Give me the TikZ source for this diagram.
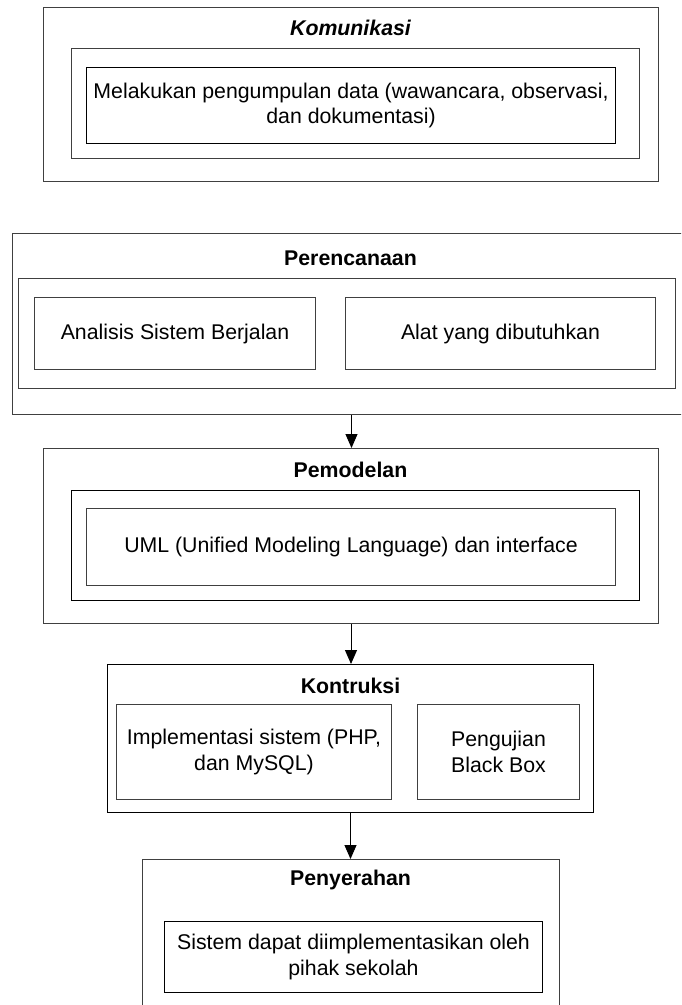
\documentclass[tikz,border=0pt]{standalone}
\usepackage{fontspec}
\setmainfont{Liberation Sans}
\usetikzlibrary{arrows.meta}
\tikzset{
  kotak/.style 2 args={draw=black!75, line width=1pt, anchor=north west, inner sep=0pt,
    align=center, minimum width=#1pt, minimum height=#2pt},
  judul/.style={font=\fontsize{21.3}{25.5}\selectfont\bfseries},
  panah/.style={-{Triangle[length=14pt,width=12pt]}, line width=1pt},
}
\begin{document}
\begin{tikzpicture}[x=1pt, y=-1pt, font=\fontsize{21.3}{25.5}\selectfont]
  \clip (0,0) rectangle (681,1005);
  \node[kotak={615}{174}] (komunikasi) at (43,7) {};
  \node[judul] (kom-judul) at (350.5,28) {\itshape Komunikasi};
  \node[kotak={568}{110}] (kom-dalam) at (71,48) {};
  \node[kotak={529}{76}, draw=black] (kom-isi) at (86,67)
    {Melakukan pengumpulan data (wawancara, observasi,\\dan dokumentasi)};

  \node[kotak={678}{181}] (perencanaan) at (12,233) {};
  \node[judul] (ren-judul) at (350.5,258) {Perencanaan};
  \node[kotak={657}{110}] (ren-dalam) at (18,278) {};
  \node[kotak={281}{72}] (ren-analisis) at (34,297) {Analisis Sistem Berjalan};
  \node[kotak={310}{72}] (ren-alat) at (345,297) {Alat yang dibutuhkan};

  \node[kotak={615}{175}] (pemodelan) at (43,448) {};
  \node[judul] (mod-judul) at (350.5,470) {Pemodelan};
  \node[kotak={568}{110}, draw=black] (mod-dalam) at (71,490) {};
  \node[kotak={529}{77}] (mod-isi) at (86,508)
    {UML (Unified Modeling Language) dan interface};

  \node[kotak={486}{148}, draw=black] (kontruksi) at (107,664) {};
  \node[judul] (kon-judul) at (350.5,686) {Kontruksi};
  \node[kotak={275}{95}] (kon-implementasi) at (116,704)
    {Implementasi sistem (PHP,\\dan MySQL)};
  \node[kotak={162}{95}] (kon-pengujian) at (417,704) {Pengujian\\Black Box};

  \node[kotak={417}{160}] (penyerahan) at (142,859) {};
  \node[judul] (ser-judul) at (350.5,880) {Penyerahan};
  \node[kotak={378}{71}, draw=black] (ser-isi) at (164,921)
    {Sistem dapat diimplementasikan oleh\\pihak sekolah};

  \foreach \a/\b in {perencanaan/pemodelan, pemodelan/kontruksi, kontruksi/penyerahan}{
    \draw[panah] (\a.south) -- (\a.south |- \b.north);
  }
\end{tikzpicture}
\end{document}
